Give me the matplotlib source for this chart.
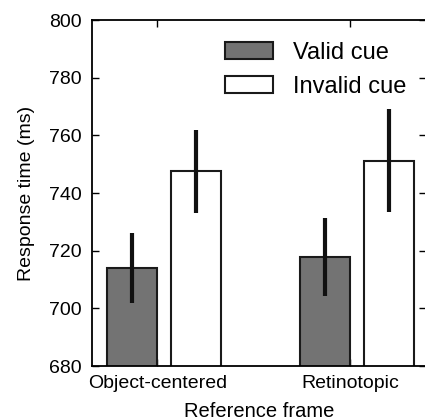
import matplotlib
matplotlib.use("Agg")
import matplotlib.pyplot as plt
import numpy as np

# data
frames = ["Object-centered", "Retinotopic"]
valid_rt = [714.0, 717.8]
valid_err = [12.3, 13.4]
invalid_rt = [747.6, 751.2]
invalid_err = [14.4, 17.8]

plt.rcParams['font.family'] = ['Liberation Sans', 'DejaVu Sans']

fig = plt.figure(figsize=(4.25, 4.19), dpi=100)
ax = fig.add_axes([92 / 425, 1 - 366 / 419, 334 / 425, 346 / 419])

x = np.arange(len(frames))
w = 0.26
gap = 0.073

ax.bar(x - w, valid_rt, width=w, align='edge', color='#737373',
       edgecolor='#1a1a1a', linewidth=1.5, label='Valid cue', zorder=2)
ax.bar(x + gap, invalid_rt, width=w, align='edge', color='white',
       edgecolor='#1a1a1a', linewidth=1.5, label='Invalid cue', zorder=2)
ax.errorbar(x - w / 2, valid_rt, yerr=valid_err, fmt='none',
            ecolor='#111111', elinewidth=3, capsize=0, zorder=3)
ax.errorbar(x + gap + w / 2, invalid_rt, yerr=invalid_err, fmt='none',
            ecolor='#111111', elinewidth=3, capsize=0, zorder=3)

ax.set_ylim(680, 800)
ax.set_xlim(-0.339, 1.396)
ax.set_yticks(np.arange(680, 801, 20))
ax.set_xticks(x)
ax.set_xticklabels(frames)
ax.tick_params(direction='in', length=5, width=1, labelsize=14,
               top=True, right=True)
ax.tick_params(axis='y', pad=7.5)
ax.tick_params(axis='x', pad=6.5)
for s in ax.spines.values():
    s.set_linewidth(1.3)

ax.set_ylabel("Response time (ms)", fontsize=14, labelpad=10)
ax.set_xlabel("Reference frame", fontsize=14.5, labelpad=7)

ax.legend(loc='upper left', bbox_to_anchor=(0.398, 0.937), frameon=False,
          fontsize=17, handlelength=2.05, handleheight=0.75,
          handletextpad=0.85, labelspacing=0.5, borderpad=0, borderaxespad=0)

fig.savefig("out.png", dpi=100)
